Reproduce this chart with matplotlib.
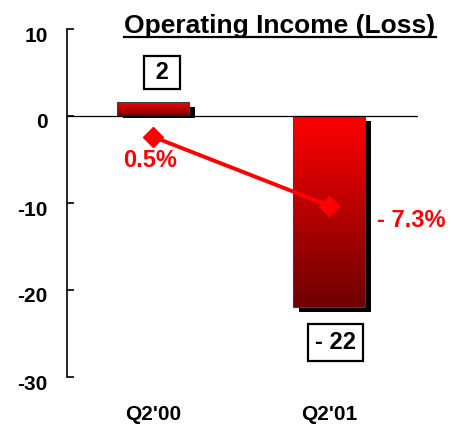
import matplotlib
matplotlib.use("Agg")
import matplotlib.pyplot as plt
import numpy as np
from matplotlib.colors import LinearSegmentedColormap
from matplotlib.patches import Rectangle
from matplotlib.lines import Line2D
import matplotlib.transforms as mtransforms

plt.rcParams['font.family'] = ['Liberation Sans', 'DejaVu Sans']

categories = ["Q2'00", "Q2'01"]
income = [1.6, -22.0]
income_labels = ["2", "- 22"]
margin_pos = [-2.4, -10.3]
margin_labels = ["0.5%", "- 7.3%"]
yticks = [10, 0, -10, -20, -30]
ytick_labels = ["10", "0", "-10", "-20", "-30"]

fig = plt.figure(figsize=(4.51, 4.25), dpi=100)
ax = fig.add_axes([67/451, 1-377/425, (418-67)/451, (377-29)/425])
ax.set_xlim(-0.49, 1.505)
ax.set_ylim(-30, 10)

x = np.arange(len(categories))
width = 0.41
cmap = LinearSegmentedColormap.from_list("rg", ["#6e0000", "#ff0000"])

# shadow offsets (approx 6 px right, 5 px down)
sdx = 6 / 176.0
sdy = 5 / 8.7
for xi, v in zip(x, income):
    if v >= 0:
        s_bot, s_top = -0.25, v - sdy
    else:
        s_bot, s_top = v - sdy, -sdy
    ax.add_patch(Rectangle((xi - width/2 + sdx, s_bot), width, s_top - s_bot,
                           facecolor='black', edgecolor='none', zorder=2))
    bars = ax.bar(xi, v, width=width, color='none', edgecolor='#404040',
                  linewidth=0.8, zorder=4)
    patch = bars[0]
    top, bot = max(v, 0), min(v, 0)
    grad = np.linspace(0, 1, 256).reshape(-1, 1)
    im = ax.imshow(grad, cmap=cmap, origin='lower', aspect='auto',
                   extent=[xi - width/2, xi + width/2, bot, top], zorder=3)
    im.set_clip_path(patch)

ax.axhline(0, color='black', linewidth=0.9, zorder=5)

ax.plot(x, margin_pos, color='#ff0000', linewidth=2.8, marker='D',
        markersize=10, zorder=6)

# value boxes
box = dict(boxstyle='square,pad=0.3', facecolor='white', edgecolor='black', linewidth=1.6)
ax.text(x[0] + 0.05, 5.0, " " + income_labels[0] + " ", ha='center', va='center', fontsize=17,
        fontweight='bold', bbox=dict(boxstyle='square,pad=0.2', facecolor='white',
                                     edgecolor='black', linewidth=1.6), zorder=7)
ax.text(x[1] + 0.035, -26.0, income_labels[1], ha='center', va='center', fontsize=17,
        fontweight='bold', bbox=box, zorder=7)

# margin labels
ax.text(x[0] - 0.02, -5.1, margin_labels[0], ha='center', va='center', fontsize=17,
        fontweight='bold', color='#ff0000', zorder=7)
ax.text(x[1] + 0.27, -12.0, margin_labels[1], ha='left', va='center', fontsize=17,
        fontweight='bold', color='#ff0000', zorder=7)

for s in ['top', 'right', 'bottom']:
    ax.spines[s].set_visible(False)
ax.spines['left'].set_linewidth(1.2)
ax.set_yticks(yticks)
ax.set_yticklabels(ytick_labels, fontsize=15, fontweight='bold')
ax.tick_params(axis='y', direction='in', length=5, width=1.2, pad=14)
shift = mtransforms.ScaledTranslation(0, -5/100, fig.dpi_scale_trans)
for lab in ax.get_yticklabels():
    lab.set_transform(lab.get_transform() + shift)
ax.set_xticks(x)
ax.set_xticklabels(categories, fontsize=15, fontweight='bold')
ax.tick_params(axis='x', length=0, pad=20)

title = fig.text(280/451, 1-26/425, "Operating Income (Loss)", ha='center', va='center',
                 fontsize=19, fontweight='bold')
fig.canvas.draw()
bb = title.get_window_extent(fig.canvas.get_renderer())
yline = bb.y0 + 1
fig.add_artist(Line2D([bb.x0/451, bb.x1/451], [yline/425, yline/425],
                      transform=fig.transFigure, color='black', linewidth=1.6))

fig.savefig("out.png", dpi=100)
